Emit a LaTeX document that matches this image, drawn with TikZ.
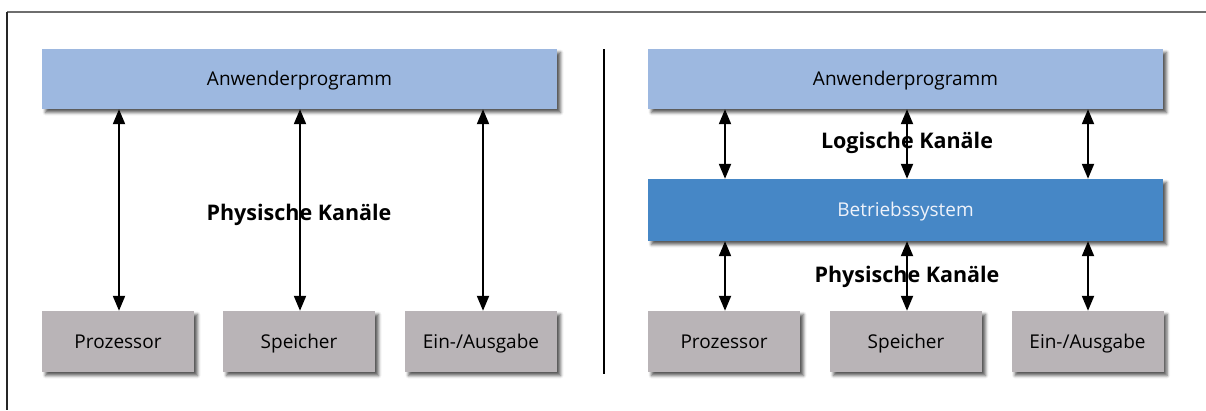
\documentclass[tikz,border=0pt]{standalone}
\usepackage{fontspec}
\setmainfont{Open Sans}
\usetikzlibrary{arrows.meta,shadows.blur}

\definecolor{appblue}{HTML}{9DB8E0}
\definecolor{osblue}{HTML}{4687C6}
\definecolor{hwgray}{HTML}{B9B4B7}
\definecolor{ostext}{HTML}{EEF2FA}
\definecolor{framegray}{HTML}{6E6E6E}

\tikzset{
  boxbase/.style={rectangle, inner sep=0pt, text=black,
    font=\fontsize{19}{22}\selectfont, text height=1.3em, text depth=0em,
    blur shadow={shadow xshift=3.5pt, shadow yshift=-3.5pt,
      shadow blur radius=3pt, shadow opacity=65}},
  appbox/.style={boxbase, fill=appblue, minimum width=515pt, minimum height=60pt},
  osbox/.style={boxbase, fill=osblue, text=ostext, minimum width=515pt, minimum height=62pt},
  hwbox/.style={boxbase, fill=hwgray, minimum width=152pt, minimum height=61pt},
  chan/.style={font=\bfseries\fontsize{21.5}{24}\selectfont, text=black, inner sep=0pt,
    text height=1.28em, text depth=0em},
  biarrow/.style={line width=2pt, {Triangle[length=15pt,width=12pt]}-{Triangle[length=15pt,width=12pt]}}
}

\begin{document}
\begin{tikzpicture}[x=1pt,y=-1pt]
\useasboundingbox (0,0) rectangle (1206,410);

% frame edges and divider
\draw[framegray, line width=2pt] (7,12) -- (1206,12);
\draw[black!85, line width=2pt] (7,12) -- (7,410);
\draw[black, line width=2pt] (604,49) -- (604,374);

% left panel: direct access
\node[appbox] (appL) at (299.5,79) {Anwenderprogramm};
\node[hwbox] (cpuL) at (118,341.5) {Prozessor};
\node[hwbox] (memL) at (299,341.5) {Speicher};
\node[hwbox] (ioL)  at (481,341.5) {Ein-/Ausgabe};
\node[chan] (physL) at (299,214) {Physische Kanäle};

\draw[biarrow] (cpuL.north -| 119,0) -- (appL.south -| 119,0);
\draw[biarrow] (memL.north -| 300,0) -- (appL.south -| 300,0);
\draw[biarrow] (ioL.north -| 483,0) -- (appL.south -| 483,0);

% right panel: access through the operating system
\node[appbox] (appR) at (905.5,79) {Anwenderprogramm};
\node[osbox] (os) at (905.5,210) {Betriebssystem};
\node[hwbox] (cpuR) at (724,341.5) {Prozessor};
\node[hwbox] (memR) at (906,341.5) {Speicher};
\node[hwbox] (ioR)  at (1087.5,341.5) {Ein-/Ausgabe};
\node[chan] (logR) at (907,142) {Logische Kanäle};
\node[chan] (physR) at (907,276) {Physische Kanäle};

\draw[biarrow] (os.north -| 725,0) -- (appR.south -| 725,0);
\draw[biarrow] (os.north -| 907,0) -- (appR.south -| 907,0);
\draw[biarrow] (os.north -| 1088,0) -- (appR.south -| 1088,0);
\draw[biarrow] (cpuR.north -| 725,0) -- (os.south -| 725,0);
\draw[biarrow] (memR.north -| 907,0) -- (os.south -| 907,0);
\draw[biarrow] (ioR.north -| 1088,0) -- (os.south -| 1088,0);
\end{tikzpicture}
\end{document}
